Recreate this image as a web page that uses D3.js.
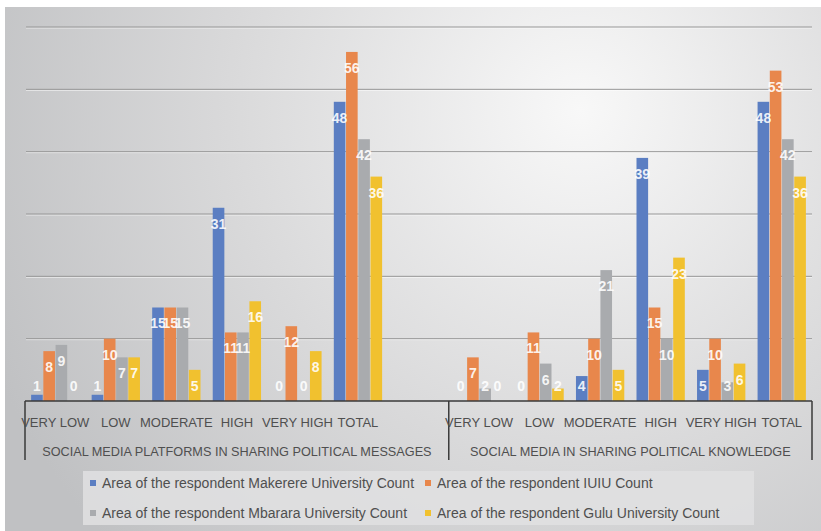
<!DOCTYPE html>
<html>
<head>
<meta charset="utf-8">
<script src="https://cdn.jsdelivr.net/npm/d3@7"></script>
<style>
  html, body { margin: 0; padding: 0; background: #fff; }
  svg { display: block; font-family: "Liberation Sans", Arial, sans-serif; }
</style>
</head>
<body>
<svg id="chart" width="821" height="531"></svg>
<script>
// categories
const levels = ["VERY LOW", "LOW", "MODERATE", "HIGH", "VERY HIGH", "TOTAL"];
const groups = ["SOCIAL MEDIA PLATFORMS IN SHARING POLITICAL MESSAGES",
                "SOCIAL MEDIA IN  SHARING POLITICAL KNOWLEDGE"];
const seriesNames = [
  "Area of the respondent Makerere University Count",
  "Area of the respondent IUIU Count",
  "Area of the respondent Mbarara University Count",
  "Area of the respondent Gulu University Count"
];
const seriesColors = ["#5b7ec2", "#e8874c", "#a9abae", "#f1c12f"];

// values per group (messages, knowledge)
const makerere = [[1, 1, 15, 31, 0, 48], [0, 0, 4, 39, 5, 48]];
const iuiu     = [[8, 10, 15, 11, 12, 56], [7, 11, 10, 15, 10, 53]];
const mbarara  = [[9, 7, 15, 11, 0, 42], [2, 6, 21, 10, 3, 42]];
const gulu     = [[0, 7, 5, 16, 8, 36], [0, 2, 5, 23, 6, 36]];
const yTicks = [10, 20, 30, 40, 50, 60];

const allSeries = [makerere, iuiu, mbarara, gulu];

// slots: left group has an extra empty slot at its end
let slots = [];
groups.forEach((g, gi) => {
  levels.forEach((l, li) => slots.push({ key: gi + "-" + li, label: l, group: gi, level: li }));
  if (gi === 0) slots.push({ key: "blank", label: "", group: 0, level: -1 });
});

const svg = d3.select("#chart");
const W = 821, H = 531;

// background
const defs = svg.append("defs");
const grad = defs.append("radialGradient")
  .attr("id", "bg").attr("gradientUnits", "userSpaceOnUse")
  .attr("cx", 580).attr("cy", 110).attr("r", 640);
grad.append("stop").attr("offset", "0%").attr("stop-color", "#f8f8f8");
grad.append("stop").attr("offset", "55%").attr("stop-color", "#d9d9da");
grad.append("stop").attr("offset", "100%").attr("stop-color", "#c0c1c3");

svg.append("rect").attr("width", W).attr("height", H).attr("fill", "#fff");
svg.append("rect").attr("x", 5).attr("y", 7).attr("width", W - 5).attr("height", H - 7)
  .attr("fill", "url(#bg)");

const plotLeft = 25, plotRight = 812, base = 401, plotTop = 27;

const x = d3.scaleBand().domain(slots.map(d => d.key)).range([plotLeft, plotRight]);
const xs = d3.scaleBand().domain(d3.range(4)).range([0, x.bandwidth()])
  .paddingInner(0.05).paddingOuter(0.5);
const y = d3.scaleLinear().domain([0, 60]).range([base, plotTop]);

// gridlines
const grid = svg.append("g");
grid.selectAll("line.g1").data(yTicks).enter().append("line")
  .attr("x1", plotLeft + 1).attr("x2", plotRight)
  .attr("y1", d => y(d) + 1).attr("y2", d => y(d) + 1)
  .attr("stroke", "#ffffff").attr("stroke-opacity", 0.6);
grid.selectAll("line.g2").data(yTicks).enter().append("line")
  .attr("x1", plotLeft + 1).attr("x2", plotRight)
  .attr("y1", d => y(d)).attr("y2", d => y(d))
  .attr("stroke", "#979797").attr("stroke-width", 1);

// bars
const barData = [];
slots.filter(s => s.level >= 0).forEach(s => {
  allSeries.forEach((ser, si) => {
    barData.push({ slot: s.key, si: si, v: ser[s.group][s.level] });
  });
});

svg.append("g").selectAll("rect").data(barData).enter().append("rect")
  .attr("x", d => x(d.slot) + xs(d.si))
  .attr("width", xs.bandwidth())
  .attr("y", d => y(d.v))
  .attr("height", d => y(0) - y(d.v))
  .attr("fill", d => seriesColors[d.si]);

// data labels
svg.append("g").selectAll("text").data(barData).enter().append("text")
  .attr("x", d => x(d.slot) + xs(d.si) + xs.bandwidth() / 2)
  .attr("y", d => Math.min(y(d.v) + 16, y(0) - 15))
  .attr("dy", "0.35em")
  .attr("text-anchor", "middle")
  .attr("font-size", 14).attr("font-weight", "bold")
  .attr("fill", "#ffffff").attr("fill-opacity", 0.9)
  .text(d => d.v);

// category axis
const axisG = svg.append("g").attr("stroke", "#3a3a3a").attr("stroke-width", 1.5);
axisG.append("line").attr("x1", plotLeft).attr("x2", plotRight).attr("y1", base).attr("y2", base);
[x(slots[0].key), x(slots[7].key), x(slots[slots.length - 1].key) + x.bandwidth()]
  .forEach(px => {
    axisG.append("line").attr("x1", px).attr("x2", px).attr("y1", base).attr("y2", 460);
  });

svg.append("g").selectAll("text").data(slots.filter(s => s.level >= 0)).enter().append("text")
  .attr("x", d => x(d.key) + x.bandwidth() / 2)
  .attr("y", 422).attr("dy", "0.35em")
  .attr("text-anchor", "middle")
  .attr("font-size", 13).attr("fill", "#4f4f4f")
  .text(d => d.label);

const groupSpan = [[0, 6], [7, 12]];
svg.append("g").selectAll("text").data(groups).enter().append("text")
  .attr("x", (d, i) => (x(slots[groupSpan[i][0]].key) + x(slots[groupSpan[i][1]].key) + x.bandwidth()) / 2)
  .attr("y", 452).attr("dy", "0.35em")
  .attr("text-anchor", "middle")
  .attr("font-size", 12.7).attr("fill", "#4f4f4f")
  .text(d => d);

// legend
svg.append("rect").attr("x", 83).attr("y", 471).attr("width", 671).attr("height", 54)
  .attr("fill", "#e1e1e2").attr("fill-opacity", 0.85);
const legPos = [[90, 483], [425, 483], [90, 513], [425, 513]];
const leg = svg.append("g").selectAll("g").data(seriesNames).enter().append("g")
  .attr("transform", (d, i) => `translate(${legPos[i][0]},${legPos[i][1]})`);
leg.append("rect").attr("x", 0).attr("y", -3).attr("width", 6).attr("height", 6)
  .attr("fill", (d, i) => seriesColors[i]);
leg.append("text").attr("x", 12).attr("y", 0).attr("dy", "0.35em")
  .attr("font-size", 14).attr("fill", "#4f4f4f")
  .text(d => d);
</script>
</body>
</html>
